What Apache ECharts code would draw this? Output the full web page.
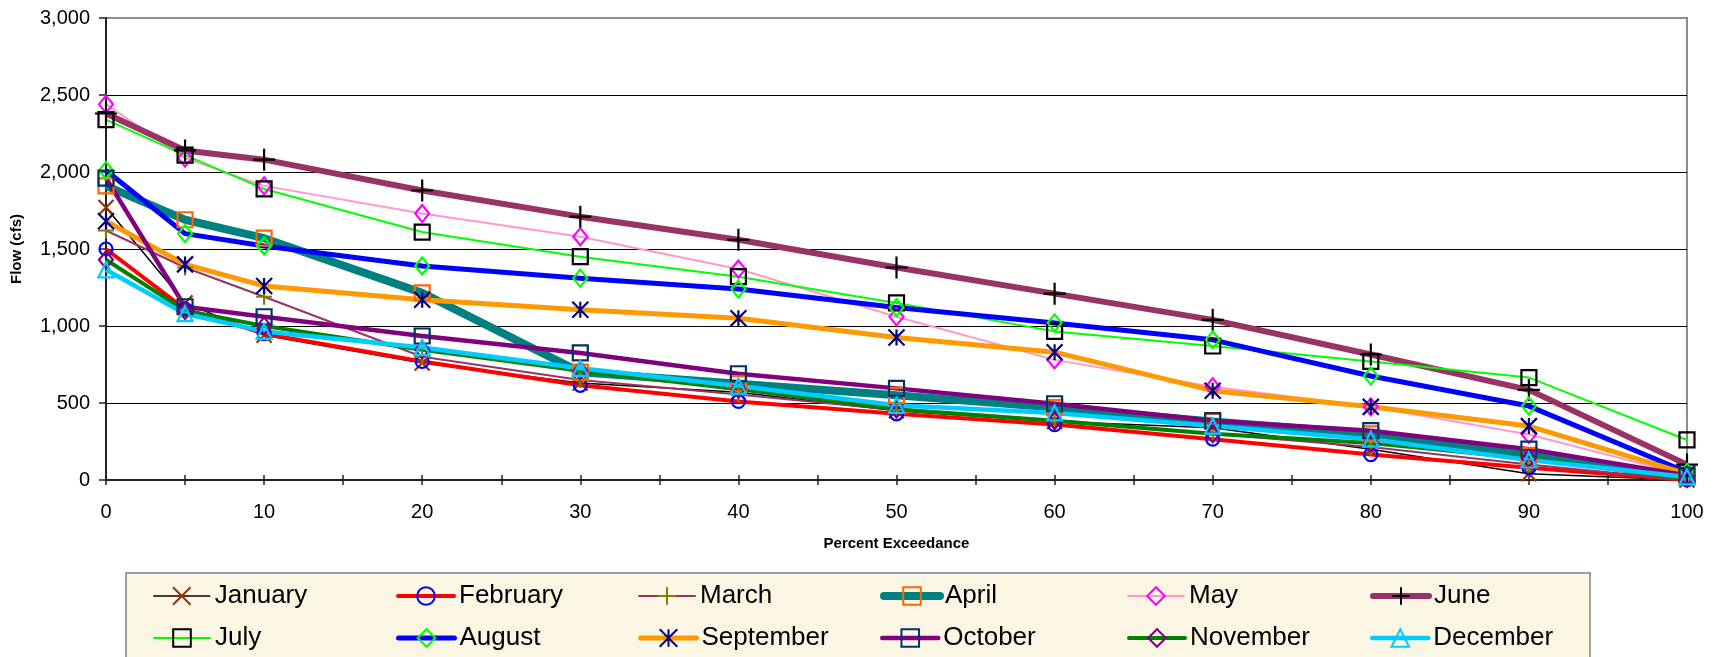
<!DOCTYPE html>
<html>
<head>
<meta charset="utf-8">
<title>Monthly Flow Duration Curves</title>
<script src="https://cdn.jsdelivr.net/npm/echarts@6/dist/echarts.min.js"></script>
<style>
  html, body { margin: 0; padding: 0; background: #ffffff; }
  #chart { width: 1715px; height: 657px; }
</style>
</head>
<body>
<div id="chart"></div>
<script>
// Percent exceedance positions (x) and monthly flow values (cfs)
const percent = [0, 5, 10, 20, 30, 40, 50, 60, 70, 80, 90, 100];

const january   = [1770, 1150, 940, 760, 630, 570, 450, 380, 340, 200, 40, 0];
const february  = [1500, 1110, 950, 770, 615, 510, 430, 360, 265, 165, 80, 0];
const march     = [1620, 1380, 1190, 800, 650, 555, 455, 390, 300, 215, 100, 0];
const april     = [1910, 1690, 1570, 1215, 700, 625, 550, 470, 380, 300, 160, 20];
const may       = [2440, 2090, 1910, 1730, 1580, 1370, 1060, 780, 605, 475, 295, 30];
const june      = [2380, 2140, 2080, 1880, 1710, 1560, 1380, 1210, 1040, 815, 585, 100];
const july      = [2340, 2110, 1890, 1610, 1450, 1320, 1150, 965, 870, 770, 665, 260];
const august    = [2010, 1600, 1520, 1390, 1310, 1240, 1120, 1020, 910, 675, 480, 50];
const september = [1680, 1400, 1260, 1170, 1105, 1050, 925, 830, 580, 475, 350, 40];
const october   = [1960, 1125, 1060, 935, 825, 690, 595, 495, 385, 320, 200, 30];
const november  = [1430, 1100, 1000, 845, 710, 590, 460, 385, 300, 240, 140, 10];
const december  = [1365, 1080, 965, 860, 725, 610, 485, 435, 350, 265, 130, 20];

const monthNames = ['January', 'February', 'March', 'April', 'May', 'June',
                    'July', 'August', 'September', 'October', 'November', 'December'];

// Marker glyphs
const SYM_X    = 'path://M0,0L10,10M10,0L0,10';
const SYM_PLUS = 'path://M5,0L5,10M0,5L10,5';
const SYM_STAR = 'path://M5,0L5,10M0,0L10,10M10,0L0,10';

// Per-series look: line colour/width, marker shape/colour/size
const styles = [
  { line: '#000000', width: 1.5, sym: SYM_X,     mark: '#993300', size: 15 },
  { line: '#FF0000', width: 4,   sym: 'circle',  mark: '#0000FF', size: 13 },
  { line: '#993366', width: 2,   sym: SYM_PLUS,  mark: '#808000', size: 16 },
  { line: '#008080', width: 8,   sym: 'rect',    mark: '#FF6600', size: 15 },
  { line: '#FF99CC', width: 2,   sym: 'diamond', mark: '#FF00FF', size: [14, 17] },
  { line: '#993366', width: 6,   sym: SYM_PLUS,  mark: '#000000', size: 22 },
  { line: '#00FF00', width: 2,   sym: 'rect',    mark: '#000000', size: 15 },
  { line: '#0000FF', width: 5,   sym: 'diamond', mark: '#00FF00', size: [14, 17] },
  { line: '#FF9900', width: 5,   sym: SYM_STAR,  mark: '#000080', size: 16 },
  { line: '#800080', width: 4.5, sym: 'rect',    mark: '#003366', size: 15 },
  { line: '#008000', width: 4,   sym: 'diamond', mark: '#800080', size: [14, 17] },
  { line: '#00CCFF', width: 4.5, sym: 'triangle',mark: '#00CCFF', size: 15 }
];

const flows = [january, february, march, april, may, june,
               july, august, september, october, november, december];

const FONT = '"Liberation Sans", Arial, sans-serif';

const series = flows.map(function (vals, i) {
  const s = styles[i];
  return {
    name: monthNames[i],
    type: 'line',
    data: vals.map(function (v, k) { return [percent[k], v]; }),
    symbol: s.sym,
    symbolSize: s.size,
    showAllSymbol: true,
    lineStyle: { color: s.line, width: s.width },
    itemStyle: { color: 'rgba(0,0,0,0)', borderColor: s.mark, borderWidth: 2.2 },
    emphasis: { disabled: true },
    animation: false
  };
});

// Legend: 6 columns x 2 rows, one legend component per entry
const colX = [153, 396, 638, 880, 1127, 1370];
const rowY = [583, 625];
const legends = monthNames.map(function (name, i) {
  return {
    data: [name],
    left: colX[i % 6],
    top: rowY[Math.floor(i / 6)],
    padding: 0,
    itemWidth: 56,
    itemHeight: 22,
    selectedMode: false,
    lineStyle: { width: styles[i].width, cap: 'round' },
    textStyle: { fontFamily: FONT, fontSize: 26, color: '#000' }
  };
});

const chart = echarts.init(document.getElementById('chart'), null, { renderer: 'canvas' });
chart.setOption({
  backgroundColor: '#ffffff',
  animation: false,
  graphic: [{
    type: 'rect',
    z: 0,
    shape: { x: 126, y: 573, width: 1464, height: 110 },
    style: { fill: '#FBF6E4', stroke: '#808080', lineWidth: 1.5 }
  }],
  legend: legends,
  grid: {
    left: 106, right: 1715 - 1687, top: 18, bottom: 657 - 480,
    show: true, borderColor: '#8c8c8c', borderWidth: 2, backgroundColor: '#ffffff'
  },
  xAxis: [{
    type: 'value', min: 0, max: 100, interval: 10,
    name: 'Percent Exceedance', nameLocation: 'middle', nameGap: 56,
    nameTextStyle: { fontFamily: FONT, fontSize: 15, fontWeight: 'bold', color: '#000' },
    axisLine: { show: true, lineStyle: { color: '#222', width: 2 } },
    axisTick: { show: true, length: 5, lineStyle: { color: '#222', width: 1.5 } },
    minorTick: { show: true, splitNumber: 2, length: 5, lineStyle: { color: '#222', width: 1.5 } },
    axisLabel: { fontFamily: FONT, fontSize: 20, color: '#000', margin: 22 },
    splitLine: { show: false }
  }, {
    // inward half of the crossing tick marks
    type: 'value', min: 0, max: 100, interval: 10, position: 'bottom', gridIndex: 0,
    axisLine: { show: false },
    axisTick: { show: true, inside: true, length: 5, lineStyle: { color: '#222', width: 1.5 } },
    minorTick: { show: true, splitNumber: 2, length: 5, lineStyle: { color: '#222', width: 1.5 } },
    axisLabel: { show: false },
    splitLine: { show: false }
  }],
  yAxis: {
    type: 'value', min: 0, max: 3000, interval: 500,
    name: 'Flow (cfs)', nameLocation: 'middle', nameGap: 82, nameRotate: 90,
    nameTextStyle: { fontFamily: FONT, fontSize: 15, fontWeight: 'bold', color: '#000' },
    axisLine: { show: true, lineStyle: { color: '#222', width: 2 } },
    axisTick: { show: true, length: 7, lineStyle: { color: '#222', width: 1.5 } },
    axisLabel: {
      fontFamily: FONT, fontSize: 20, color: '#000', margin: 16,
      formatter: function (v) { return v.toLocaleString('en-US'); }
    },
    splitLine: { show: true, showMinLine: false, showMaxLine: false, lineStyle: { color: '#000', width: 1.2 } }
  },
  series: series
});
</script>
</body>
</html>
